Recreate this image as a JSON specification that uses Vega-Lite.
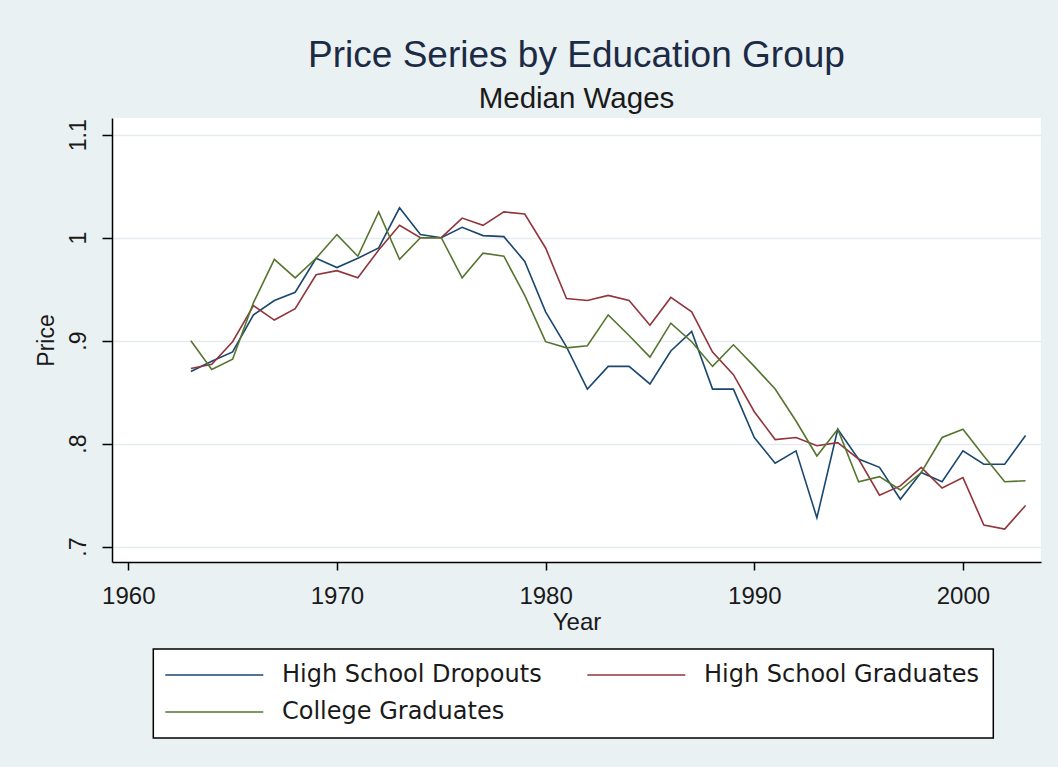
{
  "$schema": "https://vega.github.io/schema/vega-lite/v6.json",
  "autosize": {"type": "none"},
  "width": 929,
  "height": 444,
  "padding": {"left": 112, "top": 118, "right": 17, "bottom": 205},
  "background": "#eaf1f3",
  "config": {
    "view": {"fill": "white", "stroke": null},
    "font": "Liberation Sans"
  },
  "title": {
    "text": "Price Series by Education Group",
    "subtitle": "Median Wages",
    "anchor": "middle",
    "frame": "group",
    "font": "Liberation Sans",
    "fontSize": 37,
    "fontWeight": "normal",
    "color": "#1c2b45",
    "subtitleFont": "Liberation Sans",
    "subtitleFontSize": 29.5,
    "subtitleColor": "#1a1a1a",
    "subtitlePadding": 10,
    "offset": 4
  },
  "data": {
    "values": [
      {"year": 1963, "High School Dropouts": 0.870, "High School Graduates": 0.873, "College Graduates": 0.900},
      {"year": 1964, "High School Dropouts": 0.880, "High School Graduates": 0.877, "College Graduates": 0.872},
      {"year": 1965, "High School Dropouts": 0.889, "High School Graduates": 0.899, "College Graduates": 0.882},
      {"year": 1966, "High School Dropouts": 0.925, "High School Graduates": 0.934, "College Graduates": 0.937},
      {"year": 1967, "High School Dropouts": 0.939, "High School Graduates": 0.920, "College Graduates": 0.979},
      {"year": 1968, "High School Dropouts": 0.947, "High School Graduates": 0.931, "College Graduates": 0.961},
      {"year": 1969, "High School Dropouts": 0.980, "High School Graduates": 0.964, "College Graduates": 0.980},
      {"year": 1970, "High School Dropouts": 0.971, "High School Graduates": 0.968, "College Graduates": 1.003},
      {"year": 1971, "High School Dropouts": 0.980, "High School Graduates": 0.961, "College Graduates": 0.982},
      {"year": 1972, "High School Dropouts": 0.990, "High School Graduates": 0.988, "College Graduates": 1.025},
      {"year": 1973, "High School Dropouts": 1.029, "High School Graduates": 1.012, "College Graduates": 0.979},
      {"year": 1974, "High School Dropouts": 1.003, "High School Graduates": 1.000, "College Graduates": 1.000},
      {"year": 1975, "High School Dropouts": 1.000, "High School Graduates": 1.000, "College Graduates": 1.000},
      {"year": 1976, "High School Dropouts": 1.010, "High School Graduates": 1.019, "College Graduates": 0.961},
      {"year": 1977, "High School Dropouts": 1.002, "High School Graduates": 1.012, "College Graduates": 0.985},
      {"year": 1978, "High School Dropouts": 1.001, "High School Graduates": 1.025, "College Graduates": 0.982},
      {"year": 1979, "High School Dropouts": 0.977, "High School Graduates": 1.023, "College Graduates": 0.944},
      {"year": 1980, "High School Dropouts": 0.928, "High School Graduates": 0.990, "College Graduates": 0.899},
      {"year": 1981, "High School Dropouts": 0.894, "High School Graduates": 0.941, "College Graduates": 0.893},
      {"year": 1982, "High School Dropouts": 0.853, "High School Graduates": 0.939, "College Graduates": 0.895},
      {"year": 1983, "High School Dropouts": 0.875, "High School Graduates": 0.944, "College Graduates": 0.925},
      {"year": 1984, "High School Dropouts": 0.875, "High School Graduates": 0.939, "College Graduates": 0.905},
      {"year": 1985, "High School Dropouts": 0.858, "High School Graduates": 0.915, "College Graduates": 0.884},
      {"year": 1986, "High School Dropouts": 0.890, "High School Graduates": 0.942, "College Graduates": 0.917},
      {"year": 1987, "High School Dropouts": 0.909, "High School Graduates": 0.928, "College Graduates": 0.899},
      {"year": 1988, "High School Dropouts": 0.853, "High School Graduates": 0.889, "College Graduates": 0.875},
      {"year": 1989, "High School Dropouts": 0.853, "High School Graduates": 0.867, "College Graduates": 0.896},
      {"year": 1990, "High School Dropouts": 0.806, "High School Graduates": 0.831, "College Graduates": 0.875},
      {"year": 1991, "High School Dropouts": 0.781, "High School Graduates": 0.804, "College Graduates": 0.853},
      {"year": 1992, "High School Dropouts": 0.793, "High School Graduates": 0.806, "College Graduates": 0.822},
      {"year": 1993, "High School Dropouts": 0.728, "High School Graduates": 0.798, "College Graduates": 0.788},
      {"year": 1994, "High School Dropouts": 0.814, "High School Graduates": 0.801, "College Graduates": 0.814},
      {"year": 1995, "High School Dropouts": 0.785, "High School Graduates": 0.785, "College Graduates": 0.763},
      {"year": 1996, "High School Dropouts": 0.777, "High School Graduates": 0.750, "College Graduates": 0.768},
      {"year": 1997, "High School Dropouts": 0.746, "High School Graduates": 0.759, "College Graduates": 0.755},
      {"year": 1998, "High School Dropouts": 0.772, "High School Graduates": 0.777, "College Graduates": 0.772},
      {"year": 1999, "High School Dropouts": 0.763, "High School Graduates": 0.757, "College Graduates": 0.806},
      {"year": 2000, "High School Dropouts": 0.793, "High School Graduates": 0.767, "College Graduates": 0.814},
      {"year": 2001, "High School Dropouts": 0.780, "High School Graduates": 0.721, "College Graduates": 0.788},
      {"year": 2002, "High School Dropouts": 0.780, "High School Graduates": 0.717, "College Graduates": 0.763},
      {"year": 2003, "High School Dropouts": 0.808, "High School Graduates": 0.740, "College Graduates": 0.764}
    ]
  },
  "transform": [
    {"fold": ["High School Dropouts", "High School Graduates", "College Graduates"], "as": ["group", "price"]}
  ],
  "mark": {"type": "line", "strokeWidth": 1.6},
  "encoding": {
    "x": {
      "field": "year",
      "type": "quantitative",
      "scale": {"domain": [1959.22, 2003.74], "nice": false, "zero": false},
      "axis": {
        "values": [1960, 1970, 1980, 1990, 2000],
        "format": "d",
        "grid": false,
        "title": "Year",
        "titleFont": "Liberation Sans",
        "titleFontSize": 24,
        "titleFontWeight": "normal",
        "titleColor": "#1a1a1a",
        "titleBaseline": "alphabetic",
        "titleY": 67,
        "labelFont": "Liberation Sans",
        "labelFontSize": 24,
        "labelColor": "#1a1a1a",
        "labelPadding": 14,
        "labelFlush": false,
        "labelOverlap": false,
        "tickSize": 8,
        "tickColor": "black",
        "tickWidth": 1.5,
        "domainColor": "black",
        "domainWidth": 1.5
      }
    },
    "y": {
      "field": "price",
      "type": "quantitative",
      "scale": {"domain": [0.6851, 1.1162], "nice": false, "zero": false},
      "axis": {
        "values": [0.7, 0.8, 0.9, 1.0, 1.1],
        "labelExpr": "datum.value < 1 ? '.' + round(datum.value * 10) : format(datum.value, '~g')",
        "grid": true,
        "gridColor": "#e4ecef",
        "gridWidth": 1.5,
        "title": "Price",
        "titleFont": "Liberation Sans",
        "titleFontSize": 23,
        "titleFontWeight": "normal",
        "titleColor": "#1a1a1a",
        "titleAngle": 270,
        "titleAlign": "center",
        "titleBaseline": "alphabetic",
        "titleX": -59,
        "titleY": 222,
        "labelFont": "Liberation Sans",
        "labelFontSize": 23,
        "labelColor": "#1a1a1a",
        "labelAngle": 270,
        "labelAlign": "center",
        "labelBaseline": "alphabetic",
        "labelPadding": 17,
        "tickSize": 10,
        "tickColor": "black",
        "tickWidth": 1.5,
        "domainColor": "black",
        "domainWidth": 1.5
      }
    },
    "color": {
      "field": "group",
      "type": "nominal",
      "scale": {
        "domain": ["High School Dropouts", "High School Graduates", "College Graduates"],
        "range": ["#1a476f", "#90353b", "#55752f"]
      },
      "legend": {
        "orient": "none",
        "legendX": 41.3,
        "legendY": 531,
        "direction": "horizontal",
        "columns": 2,
        "title": null,
        "symbolType": "M-2.8,0H16.8",
        "symbolSize": 100,
        "symbolStrokeWidth": 1.5,
        "labelFont": "DejaVu Sans",
        "labelFontSize": 24,
        "labelColor": "#1a1a1a",
        "labelOffset": 90.7,
        "labelLimit": 400,
        "columnPadding": 42,
        "rowPadding": 13,
        "padding": 14,
        "strokeColor": "black",
        "fillColor": "white",
        "encode": {"legend": {"update": {"strokeWidth": {"value": 1.5}}}}
      }
    }
  }
}
